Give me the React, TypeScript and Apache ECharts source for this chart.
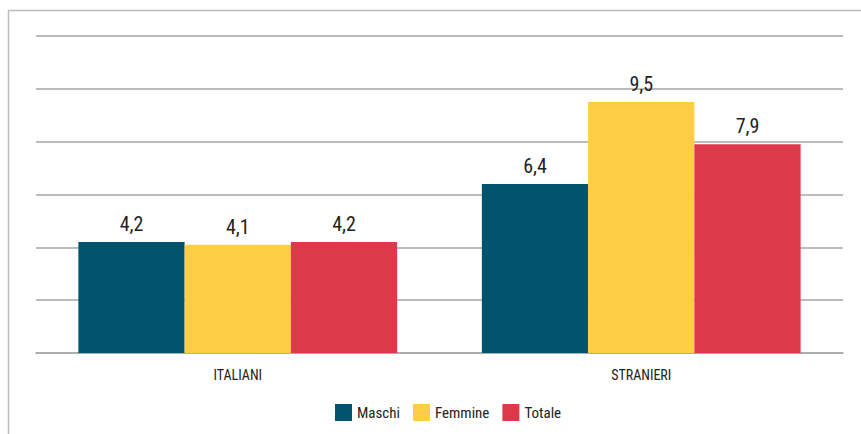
import React, { useEffect, useRef } from "react";
import * as echarts from "echarts";

const categories = ["ITALIANI", "STRANIERI"];
const maschi = [4.2, 6.4];
const femmine = [4.1, 9.5];
const totale = [4.2, 7.9];
const seriesNames = ["Maschi", "Femmine", "Totale"];
const colors = ["#02546E", "#FDCD45", "#DC3A4B"];

const FONT = "'Liberation Sans Narrow', 'Arial Narrow', 'Roboto Condensed', 'Liberation Sans', sans-serif";

export default function App() {
  const ref = useRef<HTMLDivElement>(null);
  useEffect(() => {
    if (!ref.current) return;
    const chart = echarts.init(ref.current, undefined, { renderer: "svg" });
    const data = [maschi, femmine, totale];
    chart.setOption({
      animation: false,
      backgroundColor: "#ffffff",
      textStyle: { fontFamily: FONT },
      graphic: [
        {
          type: "rect",
          shape: { x: 8.5, y: 10.5, width: 900, height: 500 },
          style: { fill: "none", stroke: "#bdbdbd", lineWidth: 1.5 },
          silent: true,
        },
      ],
      grid: { left: 36, right: 18, top: 36, bottom: 81 },
      legend: {
        left: 335,
        top: 404,
        padding: 0,
        itemWidth: 17,
        itemHeight: 17,
        itemGap: 13,
        icon: "rect",
        data: seriesNames,
        textStyle: { fontSize: 15, color: "#222", fontFamily: FONT },
      },
      xAxis: {
        type: "category",
        data: categories,
        axisLine: { show: true, lineStyle: { color: "#a6a6a6", width: 1.5 } },
        axisTick: { show: false },
        axisLabel: { color: "#222", fontSize: 14, margin: 15, fontFamily: FONT },
      },
      yAxis: {
        type: "value",
        min: 0,
        max: 12,
        interval: 2,
        axisLabel: { show: false },
        axisLine: { show: false },
        axisTick: { show: false },
        splitLine: { lineStyle: { color: "#a6a6a6", width: 1.5 } },
      },
      series: seriesNames.map((name, i) => ({
        name,
        type: "bar",
        data: data[i],
        barGap: "0%",
        barCategoryGap: "21%",
        itemStyle: { color: colors[i] },
        label: {
          show: true,
          position: "top",
          distance: 8,
          color: "#222",
          fontSize: 20,
          fontFamily: FONT,
          formatter: (p: any) => String(p.value).replace(".", ","),
        },
      })),
    });
    return () => chart.dispose();
  }, []);
  return (
    <div
      ref={ref}
      style={{ position: "absolute", left: 0, top: 0, width: 861, height: 434 }}
    />
  );
}
